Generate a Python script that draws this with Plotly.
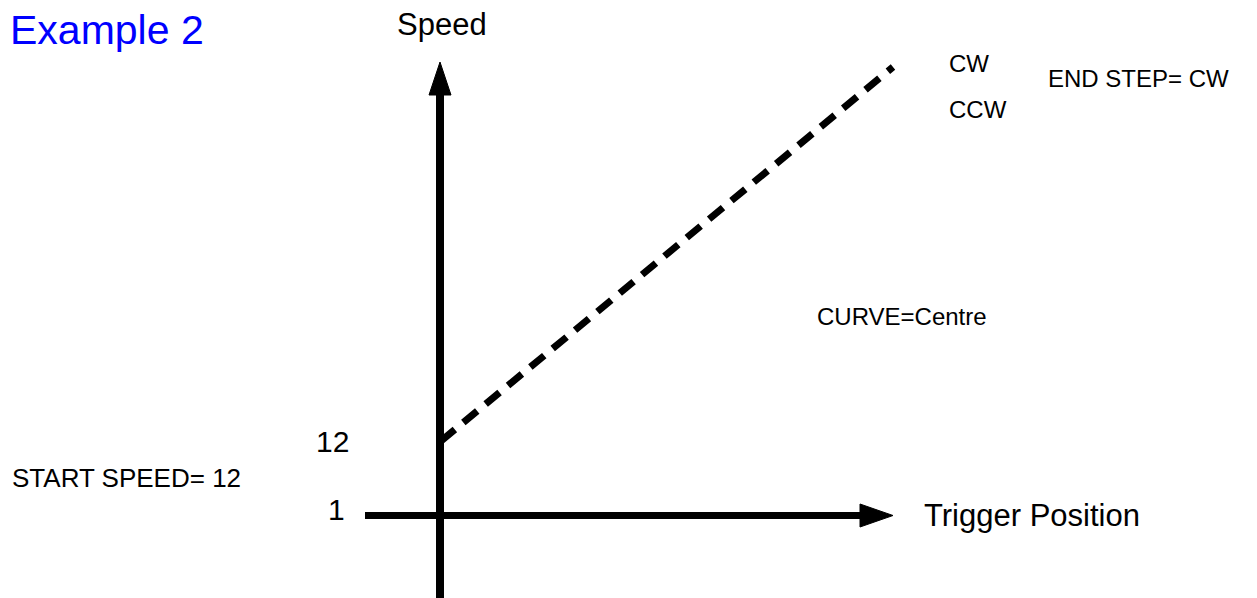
import plotly.graph_objects as go

# schematic drawn in page pixel units (y grows downward)
W, H = 1257, 598
PAD = 8  # default body margin of the html page

# axis shafts
speed_axis_x = [440, 440]
speed_axis_y = [598, 92]
trigger_axis_x = [365, 862]
trigger_axis_y = [515.5, 515.5]

# arrow heads
speed_head_x = [429, 451, 440, 429]
speed_head_y = [95, 95, 62, 95]
trigger_head_x = [860, 860, 893, 860]
trigger_head_y = [504, 527, 515.5, 504]

# the speed curve (straight, dashed)
curve_x = [441, 893]
curve_y = [441, 67]

# labels
label_text = ["Speed", "Trigger Position", "12", "1", "START SPEED= 12",
              "CW", "END STEP= CW", "CCW", "CURVE=Centre"]
label_x = [442, 922, 351, 347, 10, 947, 1046, 947, 815]
label_y = [24, 515, 441, 509, 478, 63, 78, 109, 316]
label_anchor = ["center", "left", "right", "right", "left",
                "left", "left", "left", "left"]
label_size = [31, 31, 30, 30, 26, 24, 24, 24, 24]

FONT = "Arial, Liberation Sans, sans-serif"

fig = go.Figure()

for xs, ys, w in [(speed_axis_x, speed_axis_y, 8), (trigger_axis_x, trigger_axis_y, 7)]:
    fig.add_trace(go.Scatter(x=xs, y=ys, mode="lines",
                             line=dict(color="black", width=w), hoverinfo="skip"))

for xs, ys in [(speed_head_x, speed_head_y), (trigger_head_x, trigger_head_y)]:
    fig.add_trace(go.Scatter(x=xs, y=ys, mode="lines", fill="toself",
                             fillcolor="black", line=dict(color="black", width=1),
                             hoverinfo="skip"))

fig.add_trace(go.Scatter(x=curve_x, y=curve_y, mode="lines",
                         line=dict(color="black", width=7, dash="18px,11px"),
                         hoverinfo="skip"))

for t, x, y, a, s in zip(label_text, label_x, label_y, label_anchor, label_size):
    fig.add_annotation(x=x, y=y, text=t, showarrow=False, xanchor=a, yanchor="middle",
                       font=dict(family=FONT, size=s, color="black"))

# title sits against the left edge
fig.add_annotation(x=PAD, y=30, text="Example 2", showarrow=False,
                   xanchor="left", yanchor="middle",
                   font=dict(family=FONT, size=41, color="#0000FF"))

fig.update_xaxes(range=[PAD, W], visible=False, fixedrange=True)
fig.update_yaxes(range=[H, PAD], visible=False, fixedrange=True)
fig.update_layout(width=W - PAD, height=H - PAD, margin=dict(l=0, r=0, t=0, b=0),
                  plot_bgcolor="white", paper_bgcolor="white", showlegend=False)

fig.write_html("out.html")
